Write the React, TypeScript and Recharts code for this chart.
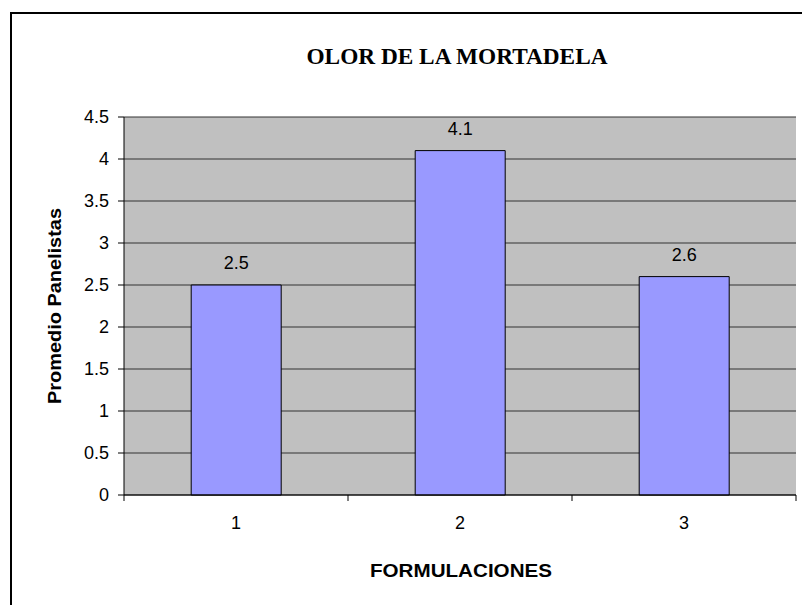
import React from 'react';
import { BarChart, Bar, XAxis, YAxis, CartesianGrid, LabelList } from 'recharts';

const categories = ['1', '2', '3'];
const values = [2.5, 4.1, 2.6];
const yTicks = [0, 0.5, 1, 1.5, 2, 2.5, 3, 3.5, 4, 4.5];
const title = 'OLOR DE LA MORTADELA';
const xTitle = 'FORMULACIONES';
const yTitle = 'Promedio Panelistas';

const data = categories.map((c, i) => ({ name: c, value: values[i] }));

const SANS = '"Liberation Sans", Arial, sans-serif';
const SERIF = '"Liberation Serif", "Times New Roman", serif';

const CatTick = (props: any) => {
  const { x, y, payload, width, visibleTicksCount, index } = props;
  const count = visibleTicksCount || categories.length;
  const half = Number(width) / count / 2;
  return (
    <g>
      <line x1={x - half} x2={x - half} y1={y} y2={y + 6} stroke="#000" />
      {index === count - 1 && <line x1={x + half} x2={x + half} y1={y} y2={y + 6} stroke="#000" />}
      <text x={x} y={y + 21} dy="0.71em" textAnchor="middle" fill="#000" fontSize={18} fontFamily={SANS}>
        {payload.value}
      </text>
    </g>
  );
};

export default function App() {
  return (
    <div style={{ position: 'absolute', left: 0, top: 0, width: 802, height: 605, overflow: 'hidden', background: '#fff' }}>
      <div style={{ position: 'absolute', left: 10, top: 12, width: 820, height: 620, border: '2px solid #000', boxSizing: 'border-box' }} />
      <div style={{ position: 'absolute', left: 0, top: 0 }}>
        <BarChart
          width={802}
          height={605}
          data={data}
          margin={{ top: 117, right: 6, bottom: 70, left: 64 }}
          barCategoryGap="30%"
        >
          <CartesianGrid vertical={false} stroke="#333" fill="#C0C0C0" fillOpacity={1} />
          <XAxis
            dataKey="name"
            tickLine={false}
            axisLine={{ stroke: '#000' }}
            tickSize={0}
            tickMargin={0}
            tick={<CatTick />}
            interval={0}
            height={40}
          />
          <YAxis
            yAxisId={0}
            domain={[0, 4.5]}
            ticks={yTicks}
            interval={0}
            tickSize={6}
            tickMargin={9}
            axisLine={{ stroke: '#000' }}
            tickLine={{ stroke: '#000' }}
            tick={{ fill: '#000', fontSize: 18, fontFamily: SANS }}
            width={60}
          />
          <YAxis
            yAxisId="right"
            orientation="right"
            domain={[0, 4.5]}
            tick={false}
            tickLine={false}
            axisLine={{ stroke: '#808080' }}
            width={0}
          />
          <Bar dataKey="value" yAxisId={0} fill="#9999FF" stroke="#000" strokeWidth={1} isAnimationActive={false}>
            <LabelList dataKey="value" position="top" offset={16} fill="#000" fontSize={18} fontFamily={SANS} />
          </Bar>
          <text x={457} y={64} textAnchor="middle" fontFamily={SERIF} fontWeight="bold" fontSize={24} fill="#000" textLength={301} lengthAdjust="spacingAndGlyphs">
            {title}
          </text>
          <text x={461} y={577} textAnchor="middle" fontFamily={SANS} fontWeight="bold" fontSize={19} fill="#000" textLength={182} lengthAdjust="spacingAndGlyphs">
            {xTitle}
          </text>
          <text x={61} y={306} textAnchor="middle" fontFamily={SANS} fontWeight="bold" fontSize={19} fill="#000" transform="rotate(-90 61 306)" textLength={196} lengthAdjust="spacingAndGlyphs">
            {yTitle}
          </text>
        </BarChart>
      </div>
    </div>
  );
}
